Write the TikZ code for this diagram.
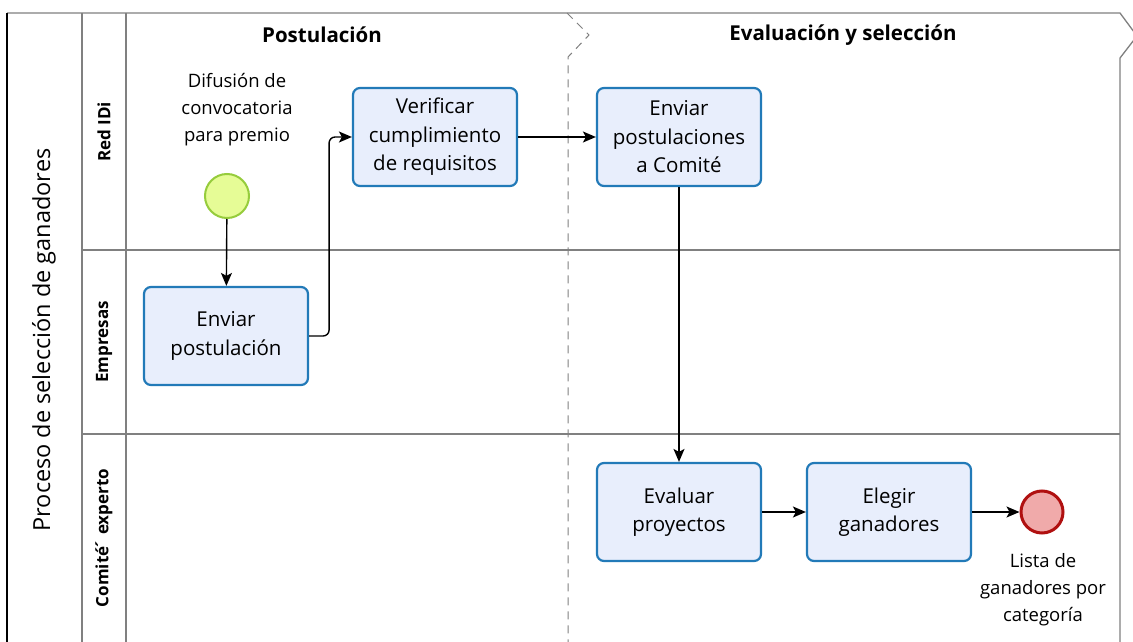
\documentclass[tikz,border=0pt]{standalone}
\usepackage{fontspec}
\setmainfont{Open Sans}
\usetikzlibrary{positioning,arrows.meta}

\definecolor{taskfill}{RGB}{232,238,252}
\definecolor{taskline}{RGB}{34,122,184}
\definecolor{startfill}{RGB}{230,252,150}
\definecolor{startline}{RGB}{150,204,60}
\definecolor{endfill}{RGB}{240,170,170}
\definecolor{endline}{RGB}{176,16,16}
\definecolor{laneline}{RGB}{128,128,128}

\begin{document}
\begin{tikzpicture}[
    x=1pt, y=-1pt,
    task/.style={rectangle, draw=taskline, fill=taskfill, line width=2.2pt, rounded corners=7pt,
        minimum width=164pt, minimum height=98pt, align=center, font=\fontsize{20.5}{28.5}\selectfont},
    startev/.style={circle, draw=startline, fill=startfill, line width=2pt, minimum size=44pt, inner sep=0pt},
    endev/.style={circle, draw=endline, fill=endfill, line width=3pt, minimum size=42pt, inner sep=0pt},
    evlabel/.style={align=center, font=\fontsize{18.5}{27}\selectfont},
    lanelabel/.style={rotate=90, font=\fontsize{17}{20}\selectfont\bfseries},
    phaselabel/.style={font=\fontsize{20.5}{24}\selectfont\bfseries},
    lane/.style={draw=laneline, line width=1.3pt},
    arrow/.style={-{Stealth[length=13pt,width=11pt,inset=3pt]}, line width=1.4pt, rounded corners=6pt}
]
    \useasboundingbox (0,0) rectangle (1133,642);
    \clip (0,0) rectangle (1133,642);
    \fill[white] (0,0) rectangle (1133,642);

    % Pool and lanes
    \draw[lane] (1120,650) -- (1120,58) -- (1137,36) -- (1120,13) -- (7,13);
    \draw[line width=1.5pt] (7,13) -- (7,650);
    \draw[lane] (82,13) -- (82,650);
    \draw[lane] (126,13) -- (126,650);
    \draw[lane] (82,250) -- (1120,250);
    \draw[lane] (82,434) -- (1120,434);

    % Phase divider
    \draw[lane, dashed, dash pattern=on 8pt off 6pt, line width=1pt]
        (567,13) -- (589,35) -- (568,57) -- (568,650);

    % Labels
    \node[rotate=90, font=\fontsize{23.5}{26}\selectfont] (pool) at (44,340) {Proceso de selección de ganadores};
    \node[lanelabel] (redidi) at (104,132) {Red IDi};
    \node[lanelabel] (empresas) at (104,342) {Empresas};
    \node[lanelabel] (comite) at (104,538) {Comité\kern-3pt´ experto};
    \node[phaselabel] (postulacion) at (322,35) {Postulación};
    \node[phaselabel] (evaluacion) at (843,35) {Evaluación y selección};

    % Events
    \node[startev] (start) at (227,196) {};
    \node[evlabel] (startlbl) at (237,110) {Difusión de\\convocatoria\\para premio};
    \node[endev] (end) at (1042,512) {};
    \node[evlabel] (endlbl) at (1043,590) {Lista de\\ganadores por\\categoría};

    % Tasks
    \node[task] (verificar) at (435,137) {Verificar\\cumplimiento\\de requisitos};
    \node[task] (enviarcom) at (679,137) {Enviar\\postulaciones\\a Comité};
    \node[task] (enviarpost) at (226,336) {Enviar\\postulación};
    \node[task] (evaluar) at (679,512) {Evaluar\\proyectos};
    \node[task] (elegir) at (889,512) {Elegir\\ganadores};

    % Flows
    \draw[arrow] (start) -- (enviarpost);
    \draw[arrow] (enviarpost.east) -- ++(20,0) |- (verificar.west);
    \draw[arrow] (verificar) -- (enviarcom);
    \draw[arrow] (enviarcom) -- (evaluar);
    \draw[arrow] (evaluar) -- (elegir);
    \draw[arrow] (elegir) -- (end);
\end{tikzpicture}
\end{document}
